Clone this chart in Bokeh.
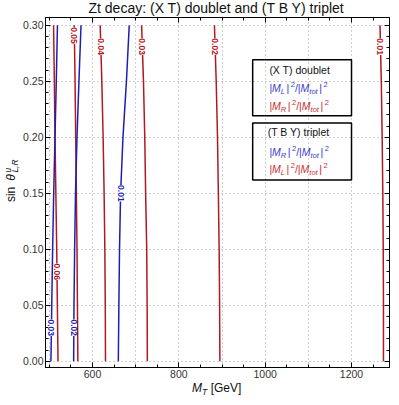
import numpy as np
from bokeh.plotting import figure
from bokeh.layouts import column, row
from bokeh.models import (Label, BoxAnnotation, SingleIntervalTicker,
                          PrintfTickFormatter, LinearAxis, Range1d)
from bokeh.embed import file_html
from bokeh.resources import INLINE

# ---------------- data ----------------
theta = [0.00, 0.05, 0.10, 0.15, 0.20, 0.25, 0.30]

# red contours (|M_R|^2/|M_tot|^2 doublet, |M_L|^2/|M_tot|^2 triplet)
red_levels = ["0.01", "0.02", "0.03", "0.04", "0.05", "0.06"]
red_001 = [1274.0, 1274.0, 1273.5, 1272.5, 1271.0, 1269.0, 1266.0]
red_002 = [895.0, 894.4, 893.3, 891.5, 889.5, 886.5, 882.4]
red_003 = [727.0, 726.5, 725.5, 723.0, 721.0, 718.0, 713.7]
red_004 = [630.0, 629.5, 628.5, 626.8, 624.5, 621.5, 617.7]
red_005 = [566.0, 565.0, 564.0, 562.5, 561.0, 559.5, 557.6]
red_006 = [520.0, 518.5, 517.0, 515.0, 513.0, 511.5, 509.7]
red_label_theta = [0.281, 0.281, 0.281, 0.281, 0.291, 0.080]

# blue contours (|M_L|^2/|M_tot|^2 doublet, |M_R|^2/|M_tot|^2 triplet)
blue_levels = ["0.01", "0.02", "0.03"]
blue_001 = [659.7, 661.0, 662.5, 665.0, 670.5, 678.5, 685.0]
blue_002 = [556.2, 557.0, 558.5, 560.5, 564.0, 568.5, 573.3]
blue_003 = [503.6, 505.5, 507.5, 510.0, 513.0, 516.0, 518.7]
blue_label_theta = [0.150, 0.030, 0.030]

title_text = "Zt decay: (X T) doublet and (T B Y) triplet"
x_tick_step = 200
y_tick_step = 0.05

# ---------------- styling ----------------
FONT = "Liberation Sans"
RED = "#b2181e"
BLUE = "#1e1eb4"
RED_TXT = "#c83030"
BLUE_TXT = "#3a3ad0"
INK = "#111111"
BSHIFT = 0.4          # alphabetic baseline is drawn ~0.4em low: compensate

XR = (491.0, 1288.0)
YR = (-0.0055, 0.307)

TOTAL_W, TOTAL_H = 391, 397
TITLE_H, XLAB_H, YLAB_W = 17, 16, 20
MAIN_W = TOTAL_W - YLAB_W
MAIN_H = TOTAL_H - TITLE_H - XLAB_H
BL, BR = 23, 2

p = figure(width=MAIN_W, height=MAIN_H, output_backend="svg", toolbar_location=None,
           x_range=Range1d(*XR), y_range=Range1d(*YR),
           min_border_left=BL, min_border_right=BR, min_border_top=0,
           min_border_bottom=14)
p.background_fill_color = "white"
p.border_fill_color = "white"
p.outline_line_color = "black"
p.outline_line_width = 1

def style_axis(ax, labels=True):
    ax.axis_line_color = "black"
    ax.major_tick_line_color = "black"
    ax.minor_tick_line_color = "black"
    ax.major_tick_in = 5
    ax.major_tick_out = 0
    ax.minor_tick_in = 3
    ax.minor_tick_out = 0
    if labels:
        ax.major_label_text_font = FONT
        ax.major_label_text_font_size = "10.5px"
        ax.major_label_text_color = "#333333"
    else:
        ax.major_label_text_font_size = "0px"
        ax.major_label_text_color = None
        ax.major_label_text_alpha = 0
        ax.major_label_standoff = 0

p.xaxis.ticker = SingleIntervalTicker(interval=x_tick_step, num_minor_ticks=4)
p.yaxis.ticker = SingleIntervalTicker(interval=y_tick_step, num_minor_ticks=5)
p.yaxis.formatter = PrintfTickFormatter(format="%.2f")
style_axis(p.xaxis[0])
style_axis(p.yaxis[0])
p.xaxis.major_label_standoff = 2
p.yaxis.major_label_standoff = 2

top_ax = LinearAxis(ticker=SingleIntervalTicker(interval=x_tick_step, num_minor_ticks=4))
right_ax = LinearAxis(ticker=SingleIntervalTicker(interval=y_tick_step, num_minor_ticks=5))
style_axis(top_ax, labels=False)
style_axis(right_ax, labels=False)
p.add_layout(top_ax, "above")
p.add_layout(right_ax, "right")

p.xgrid.ticker = SingleIntervalTicker(interval=100)
p.ygrid.ticker = SingleIntervalTicker(interval=0.05)
for g in (p.xgrid[0], p.ygrid[0]):
    g.grid_line_color = "#a0a0a0"
    g.grid_line_dash = "1 3"
    g.grid_line_width = 1

# ---------------- contours ----------------
red_lines = [red_001, red_002, red_003, red_004, red_005, red_006]
blue_lines = [blue_001, blue_002, blue_003]

for m in red_lines:
    p.line(m, theta, line_color=RED, line_width=1.5)
for m in blue_lines:
    p.line(m, theta, line_color=BLUE, line_width=1.5)

def contour_label(m, lev, th, color):
    xm = float(np.interp(th, theta, m))
    p.add_layout(Label(x=xm, y=th, text=lev, angle=-np.pi / 2,
                       text_align="center", text_baseline="middle",
                       text_font=FONT, text_font_size="8.5px",
                       text_font_style="bold", text_color=color,
                       background_fill_color="white"))

for m, lev, th in zip(red_lines, red_levels, red_label_theta):
    contour_label(m, lev, th, RED)
for m, lev, th in zip(blue_lines, blue_levels, blue_label_theta):
    contour_label(m, lev, th, BLUE)

# ---------------- composite text helper ----------------
W = {'|': 0.26, 'M': 0.833, 'L': 0.556, 'R': 0.722, '2': 0.556, '/': 0.278,
     't': 0.278, 'o': 0.556, ' ': 0.278, 'T': 0.611, '[': 0.278, 'G': 0.778,
     'e': 0.556, 'V': 0.667, ']': 0.278, 's': 0.5, 'i': 0.222, 'n': 0.556,
     'θ': 0.556, 'u': 0.556, ',': 0.278}

def twidth(s, size):
    return sum(W.get(c, 0.556) for c in s) * size

def compose(fig, x, y, pieces, x0=0.0, y0=0.0, vertical=False):
    """pieces: (text, size, style, color, shift, gap_after, advance);
    (x0, y0) is the wanted baseline start, in pixels from (x, y)."""
    pos = 0.0
    for text, size, style, color, shift, gap, adv in pieces:
        kw = dict(text=text, text_font=FONT, text_font_size=f"{size}px",
                  text_font_style=style, text_color=color,
                  text_baseline="alphabetic", text_align="left")
        corr = BSHIFT * size
        if vertical:
            lab = Label(x=x, y=y, x_offset=x0 - shift - corr, y_offset=y0 + pos,
                        angle=np.pi / 2, **kw)
        else:
            lab = Label(x=x, y=y, x_offset=x0 + pos, y_offset=y0 + shift + corr, **kw)
        fig.add_layout(lab)
        if adv:
            pos += twidth(text, size) + gap

def ratio(x, y, x0, y0, a, b, color):
    S, s = 10.5, 7.5
    pieces = [("|", S, "normal", color, 0, 0, True),
              ("M", S, "italic", color, 0, 0, True),
              (a, s, "italic", color, -2.5, 1.5, True),
              ("|", S, "normal", color, 0, 1.5, True),
              ("2", s, "normal", color, 4.5, 0, True),
              ("/", S, "normal", color, 0, 0, True),
              ("|", S, "normal", color, 0, 0, True),
              ("M", S, "italic", color, 0, 0, True),
              (b, s, "italic", color, -2.5, 1.5, True),
              ("|", S, "normal", color, 0, 1.5, True),
              ("2", s, "normal", color, 4.5, 0, True)]
    compose(p, x, y, pieces, x0, y0)

def plain(fig, x, y, x0, y0, text, size, align="left"):
    fig.add_layout(Label(x=x, y=y, x_offset=x0, y_offset=y0 + BSHIFT * size,
                         text=text, text_font=FONT, text_font_size=f"{size}px",
                         text_color=INK, text_baseline="alphabetic",
                         text_align=align))

# ---------------- legend boxes ----------------
box1 = dict(left=971.0, right=1200.0, top=0.2692, bottom=0.2192)
box2 = dict(left=971.0, right=1200.0, top=0.2128, bottom=0.1620)
for b in (box1, box2):
    p.add_layout(BoxAnnotation(fill_alpha=0, line_color="black",
                               line_width=1.5, line_alpha=1, **b))

plain(p, box1["left"], box1["top"], 16.7, -14, "(X T) doublet", 10.5)
ratio(box1["left"], box1["top"], 16.7, -32.3, "L", "tot", BLUE_TXT)
ratio(box1["left"], box1["top"], 16.7, -50, "R", "tot", RED_TXT)

plain(p, box2["left"], box2["top"], 15, -13.3, "(T B Y) triplet", 10.5)
ratio(box2["left"], box2["top"], 16.7, -32.7, "R", "tot", BLUE_TXT)
ratio(box2["left"], box2["top"], 16.7, -50.3, "L", "tot", RED_TXT)

# ---------------- text strips (title, axis labels) ----------------
def strip(w, h):
    f = figure(width=w, height=h, output_backend="svg", toolbar_location=None,
               x_range=Range1d(0, w), y_range=Range1d(0, h),
               x_axis_location=None, y_axis_location=None, title=None,
               min_border=0, min_border_left=0, min_border_right=0,
               min_border_top=0, min_border_bottom=0)
    f.grid.visible = False
    f.outline_line_color = None
    f.background_fill_color = "white"
    f.border_fill_color = "white"
    return f

FRAME_CX = YLAB_W + BL + (MAIN_W - BL - BR) / 2   # horizontal centre of the frame

t = strip(TOTAL_W, TITLE_H)
plain(t, FRAME_CX, TITLE_H - 13, 0, 0, title_text, 14, align="center")

xl = strip(TOTAL_W, XLAB_H)
compose(xl, FRAME_CX, 5, [("M", 12, "italic", INK, 0, 0, True),
                          ("T", 8.5, "italic", INK, -2.5, 3.5, True),
                          ("[GeV]", 12, "normal", INK, 0, 0, True)],
        x0=-24.5)

yl = strip(YLAB_W, MAIN_H)
compose(yl, 15.5, (TITLE_H + MAIN_H) - 209,
        [("sin", 12, "normal", INK, 0, 6, True),
         ("θ", 12, "italic", INK, 0, 1.5, True),
         ("u", 8.5, "italic", INK, 5, 0, False),
         ("L,R", 8.5, "italic", INK, -2.5, 0, True)],
        vertical=True)

layout = column(t, row(yl, p), xl)
open("out.html", "w").write(file_html(layout, INLINE))
